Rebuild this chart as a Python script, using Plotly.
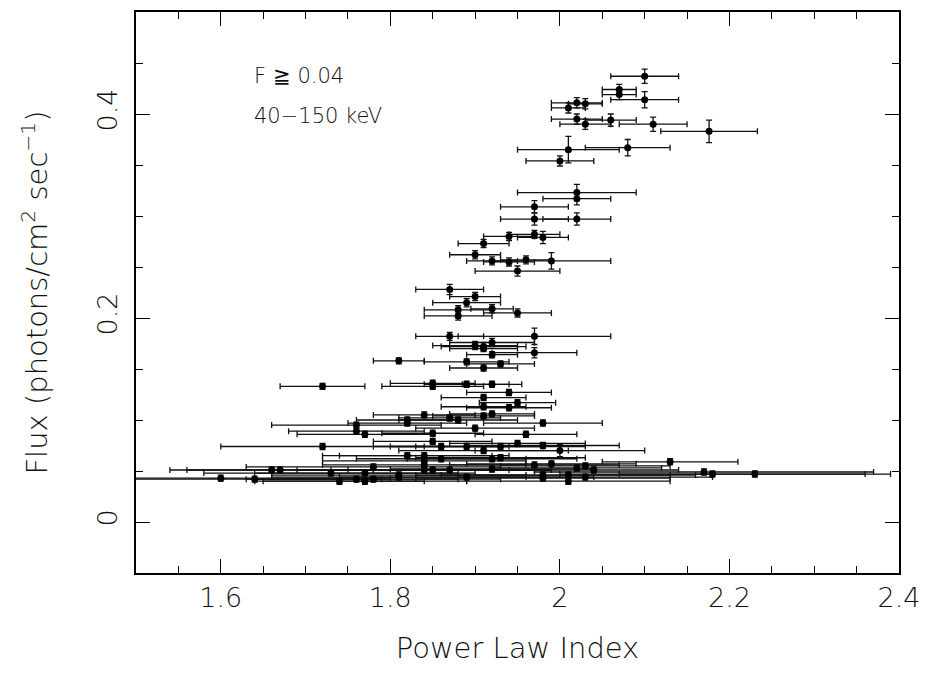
import plotly.graph_objects as go

# Power law index, flux, and symmetric errors
index = [2.10, 2.07, 2.07, 2.10, 2.02, 2.03, 2.01, 2.02, 2.06, 2.03, 2.11, 2.176,
         2.01, 2.08, 2.00, 2.02, 2.02, 1.97, 1.97, 2.02, 1.94, 1.97, 1.98,
         1.91, 1.90, 1.92, 1.94, 1.96, 1.99, 1.95, 1.87, 1.90, 1.89, 1.88, 1.92,
         1.95, 1.88, 1.87, 1.97, 1.90, 1.91, 1.92, 1.91, 1.92, 1.97, 1.81, 1.89,
         1.93, 1.91, 1.85, 1.85, 1.89, 1.92, 1.72, 1.94, 1.91, 1.91, 1.94, 1.95,
         1.92, 1.91, 1.84, 1.87, 1.88, 1.82, 1.82, 1.76, 1.76, 1.77, 1.85, 1.98,
         1.90, 1.96, 1.85, 1.72, 1.86, 1.89, 1.95, 1.93, 1.98, 2.00, 1.91, 1.82,
         1.84, 1.86, 1.92, 1.93, 2.13, 1.84, 1.84, 1.97, 1.99, 2.02, 2.03, 2.04,
         1.78, 1.85, 1.87, 1.92, 1.66, 1.67, 1.73, 1.77, 2.17, 2.18, 2.23, 1.81,
         1.81, 1.60, 1.64, 1.74, 1.76, 1.77, 1.78, 1.89, 1.98, 1.98, 2.01, 2.01,
         2.03, 1.84]
flux = [0.437, 0.424, 0.419, 0.414, 0.411, 0.410, 0.406, 0.395, 0.394, 0.390, 0.390, 0.383,
        0.365, 0.367, 0.354, 0.323, 0.317, 0.309, 0.297, 0.297, 0.280, 0.282, 0.279,
        0.273, 0.262, 0.256, 0.255, 0.257, 0.256, 0.246, 0.228, 0.221, 0.215, 0.208, 0.209,
        0.205, 0.202, 0.182, 0.182, 0.173, 0.172, 0.176, 0.170, 0.164, 0.166, 0.158, 0.157,
        0.155, 0.151, 0.136, 0.133, 0.135, 0.135, 0.133, 0.127, 0.122, 0.113, 0.112, 0.117,
        0.106, 0.104, 0.105, 0.102, 0.100, 0.100, 0.097, 0.095, 0.089, 0.086, 0.087, 0.097,
        0.092, 0.086, 0.079, 0.074, 0.074, 0.074, 0.077, 0.074, 0.075, 0.070, 0.070, 0.065,
        0.065, 0.062, 0.062, 0.063, 0.059, 0.060, 0.056, 0.056, 0.057, 0.053, 0.055, 0.051,
        0.054, 0.051, 0.051, 0.052, 0.051, 0.051, 0.048, 0.048, 0.049, 0.047, 0.047, 0.046,
        0.044, 0.043, 0.042, 0.040, 0.042, 0.040, 0.042, 0.044, 0.046, 0.043, 0.046, 0.040,
        0.044, 0.051]
index_err = [0.04, 0.02, 0.02, 0.04, 0.03, 0.02, 0.02, 0.03, 0.03, 0.03, 0.04, 0.057,
             0.06, 0.05, 0.04, 0.07, 0.04, 0.04, 0.04, 0.04, 0.03, 0.03, 0.03,
             0.03, 0.03, 0.03, 0.03, 0.03, 0.07, 0.05, 0.04, 0.03, 0.04, 0.04, 0.025,
             0.04, 0.04, 0.04, 0.09, 0.05, 0.05, 0.05, 0.04, 0.03, 0.05, 0.03, 0.05,
             0.04, 0.04, 0.05, 0.06, 0.05, 0.035, 0.05, 0.05, 0.05, 0.05, 0.05, 0.045,
             0.05, 0.06, 0.06, 0.06, 0.07, 0.06, 0.07, 0.10, 0.08, 0.08, 0.06, 0.07,
             0.07, 0.06, 0.07, 0.12, 0.08, 0.09, 0.08, 0.10, 0.09, 0.10, 0.10, 0.10,
             0.10, 0.10, 0.10, 0.10, 0.08, 0.12, 0.12, 0.10, 0.10, 0.10, 0.10, 0.10,
             0.15, 0.12, 0.12, 0.12, 0.12, 0.11, 0.15, 0.13, 0.20, 0.18, 0.16, 0.15,
             0.15, 0.20, 0.15, 0.10, 0.12, 0.12, 0.15, 0.15, 0.15, 0.15, 0.15, 0.12,
             0.15, 0.15]
flux_err = [0.007, 0.005, 0.005, 0.008, 0.005, 0.005, 0.005, 0.005, 0.006, 0.005, 0.007, 0.011,
            0.013, 0.008, 0.005, 0.008, 0.006, 0.006, 0.006, 0.006, 0.004, 0.004, 0.006,
            0.004, 0.004, 0.004, 0.004, 0.004, 0.008, 0.005, 0.005, 0.004, 0.004, 0.004, 0.004,
            0.004, 0.004, 0.004, 0.008, 0.004, 0.004, 0.004, 0.003, 0.003, 0.005, 0.003, 0.003,
            0.003, 0.003, 0.003, 0.003, 0.003, 0.003, 0.003, 0.003, 0.003, 0.003, 0.003, 0.003,
            0.003, 0.003, 0.003, 0.003, 0.003, 0.003, 0.003, 0.003, 0.003, 0.003, 0.003, 0.003,
            0.003, 0.003, 0.003, 0.003, 0.003, 0.003, 0.003, 0.003, 0.003, 0.006, 0.003, 0.003,
            0.003, 0.003, 0.003, 0.003, 0.003, 0.003, 0.003, 0.003, 0.003, 0.003, 0.003, 0.003,
            0.003, 0.003, 0.003, 0.003, 0.003, 0.003, 0.003, 0.003, 0.003, 0.003, 0.003, 0.003,
            0.003, 0.003, 0.003, 0.003, 0.003, 0.003, 0.003, 0.003, 0.003, 0.003, 0.003, 0.003,
            0.003, 0.003]

x_ticks = [1.6, 1.8, 2.0, 2.2, 2.4]
x_tick_labels = ["1.6", "1.8", "2", "2.2", "2.4"]
y_ticks = [0, 0.2, 0.4]
y_tick_labels = ["0", "0.2", "0.4"]

FONT = "DejaVu Sans"
TXT = "#111111"
W = 200

fig = go.Figure()
fig.add_trace(go.Scatter(
    x=index, y=flux, mode="markers",
    marker=dict(color="black", size=7, symbol="circle"),
    error_x=dict(type="data", array=index_err, color="#111111", thickness=1.3, width=3),
    error_y=dict(type="data", array=flux_err, color="#111111", thickness=1.3, width=3),
    cliponaxis=True, showlegend=False,
))

axis_common = dict(
    showgrid=False, zeroline=False, showline=True, linecolor="black", linewidth=1.5,
    mirror="allticks", ticks="inside", ticklen=14, tickwidth=1.2, tickcolor="black",
    tickfont=dict(family=FONT, size=27, color=TXT, weight=W),
)

fig.update_layout(
    width=930, height=673,
    margin=dict(l=136, r=28, t=10, b=100),
    paper_bgcolor="white", plot_bgcolor="white",
    xaxis=dict(
        range=[1.5, 2.4], tickvals=x_ticks, ticktext=x_tick_labels,
        minor=dict(ticks="inside", ticklen=7, dtick=0.05, tick0=1.5, tickcolor="black", tickwidth=1.2),
        title=dict(text="Power Law Index", font=dict(family=FONT, size=29, color=TXT, weight=W), standoff=26),
        **axis_common,
    ),
    yaxis=dict(
        range=[-0.05, 0.5], tickvals=y_ticks, ticktext=y_tick_labels, tickangle=-90,
        ticklabelstandoff=6,
        minor=dict(ticks="inside", ticklen=7, dtick=0.05, tick0=0, tickcolor="black", tickwidth=1.2),
        title=dict(text="Flux (photons/cm<sup>2</sup> sec<sup>−1</sup>)",
                   font=dict(family=FONT, size=29, color=TXT, weight=W), standoff=36),
        **axis_common,
    ),
    annotations=[
        dict(x=1.637, y=0.437, xref="x", yref="y", text="F ≧ 0.04", showarrow=False,
             xanchor="left", yanchor="middle", font=dict(family=FONT, size=21, color=TXT, weight=W)),
        dict(x=1.637, y=0.398, xref="x", yref="y", text="40−150 keV", showarrow=False,
             xanchor="left", yanchor="middle", font=dict(family=FONT, size=21, color=TXT, weight=W)),
    ],
)

fig.write_html("out.html")
